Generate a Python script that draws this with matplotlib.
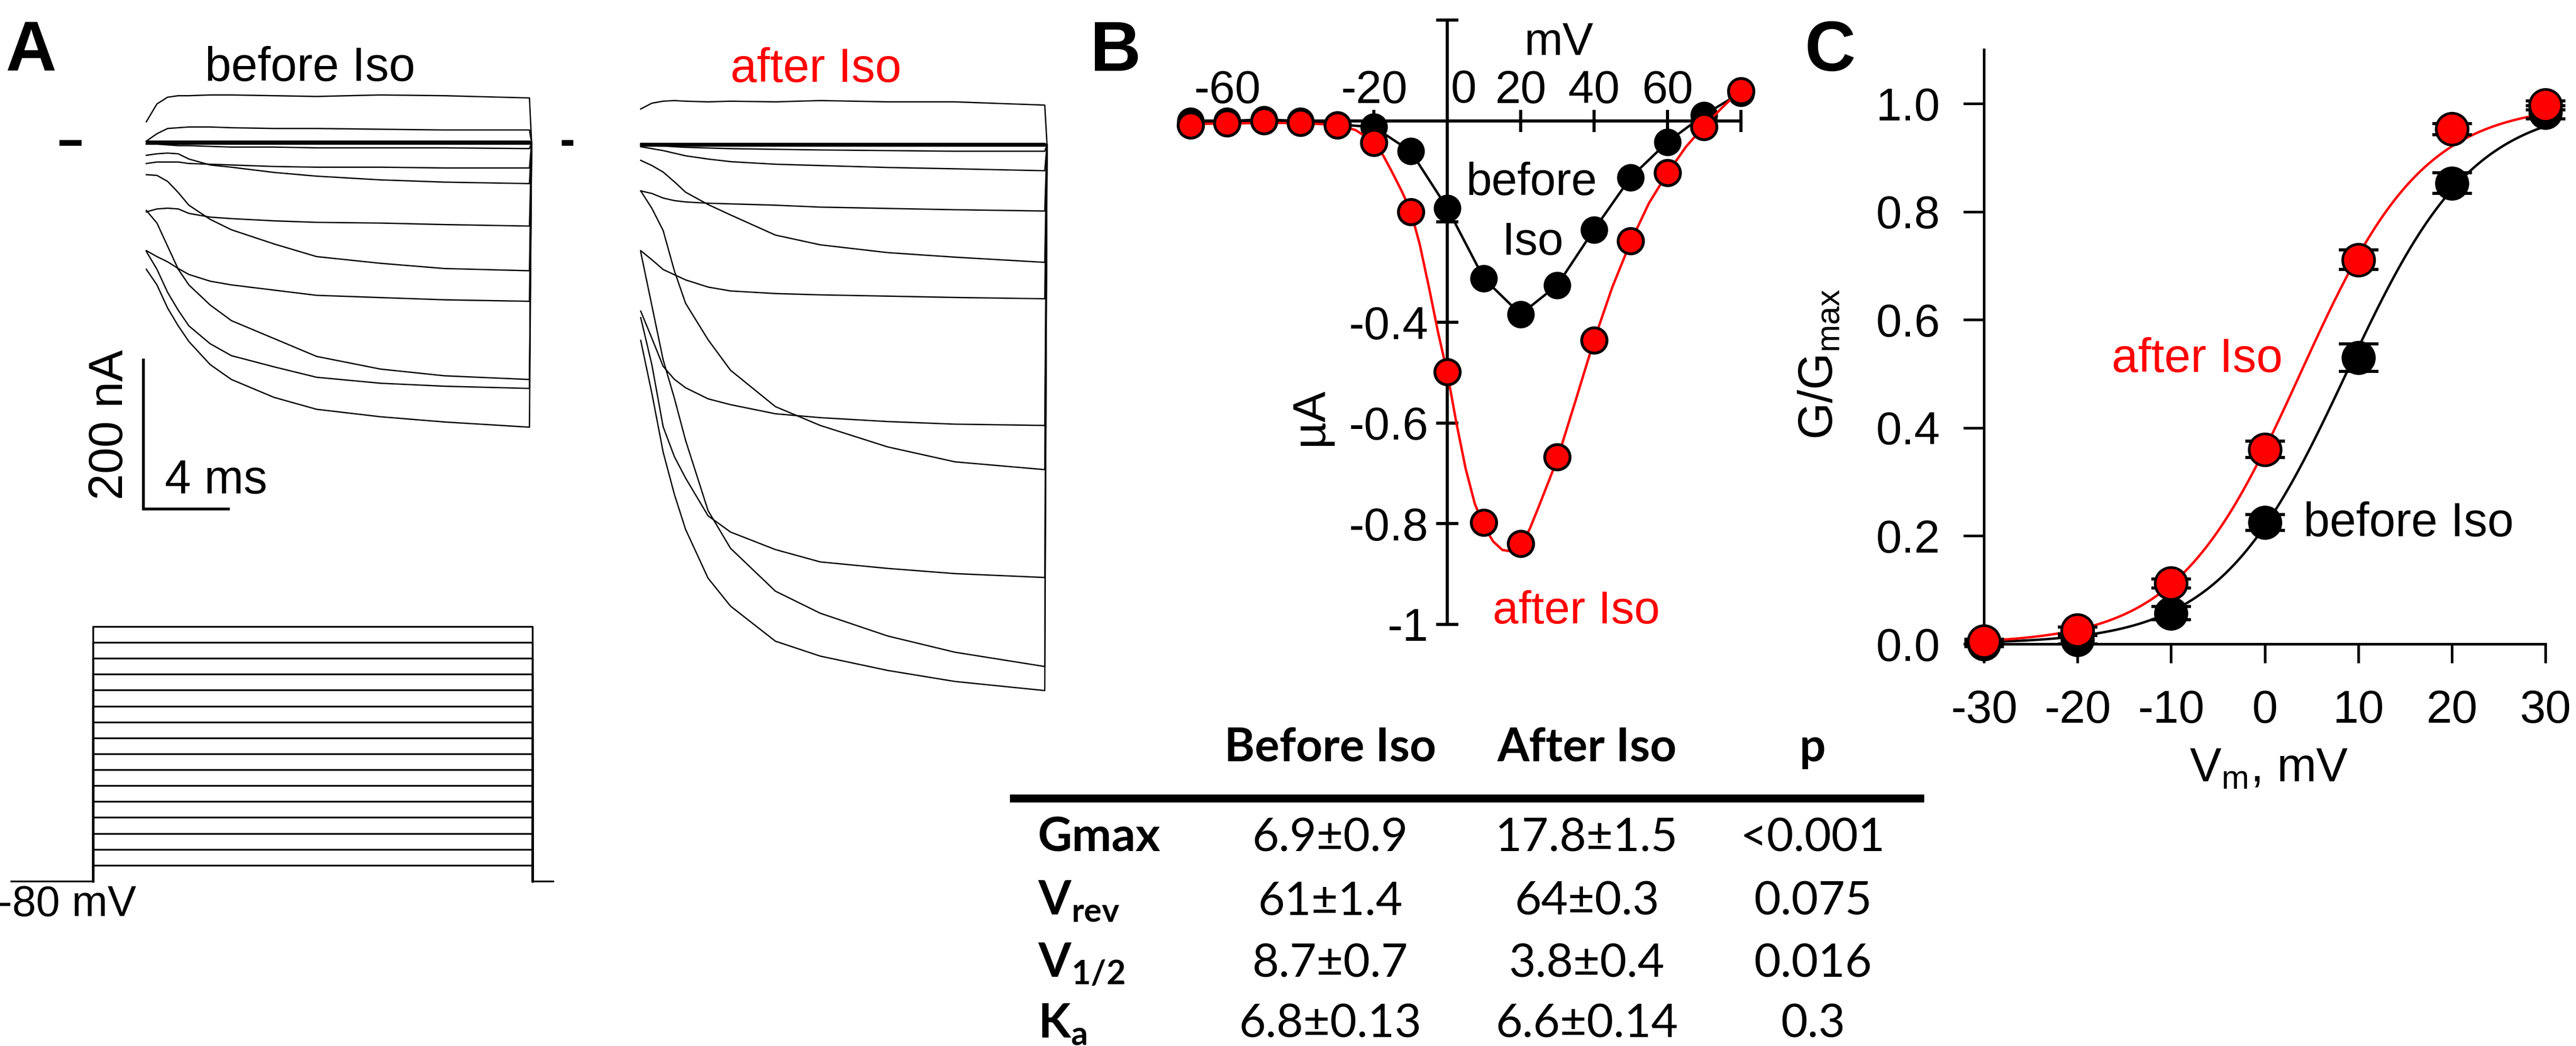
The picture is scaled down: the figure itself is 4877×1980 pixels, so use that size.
import numpy as np
import matplotlib.pyplot as plt
from matplotlib.lines import Line2D

OUT_PATH = "out.png"
W, H, DPI = 4877, 1980, 300

# ---------------- data ----------------
VOLTAGES = [-70, -60, -50, -40, -30, -20, -10, 0, 10, 20, 30, 40, 50, 60, 70, 80]

# A: currents (nA) at these times (ms) after the step
TRACE_T = [0, 0.5, 1, 1.5, 2, 3, 4, 6, 8, 11, 14, 18]

TRACES_BEFORE = {
    -70: [1, 1, 1, 1, 1, 1, 1, 1, 1, 1, 1, 1],
    -60: [-1, -1, -1, -1, -1, -1, -1, -1, -1, -1, -1, -1],
    -50: [2, 2, 2, 2, 2, 2, 2, 2, 2, 2, 2, 2],
    -40: [0, 0, 0, 0, 0, 0, 0, 0, 0, 0, 0, 0],
    -30: [-2, -2, -2, -2, -2, -2, -2, -2, -2, -2, -2, -2],
    -20: [-2, -2, -3, -4, -4, -5, -6, -6, -7, -7, -7, -8],
    -10: [-17, -15, -14, -15, -22, -30, -33, -40, -45, -50, -53, -55],
    0:   [-43, -44, -52, -67, -84, -103, -117, -136, -153, -162, -169, -172],
    10:  [-91, -108, -139, -170, -191, -218, -239, -263, -287, -304, -313, -318],
    20:  [-170, -191, -222, -246, -267, -298, -318, -342, -358, -368, -375, -382],
    30:  [-146, -170, -201, -225, -246, -270, -286, -301, -315, -323, -327, -330],
    40:  [-145, -153, -160, -169, -177, -186, -191, -198, -205, -208, -211, -213],
    50:  [-93, -89, -88, -89, -95, -100, -102, -105, -107, -108, -110, -112],
    60:  [-28, -26, -26, -26, -28, -29, -30, -32, -33, -33, -34, -34],
    70:  [2, 12, 19, 20, 21, 21, 20, 19, 19, 18, 17, 17],
    80:  [28, 52, 61, 63, 63, 64, 64, 63, 62, 64, 63, 60],
}

TRACES_AFTER = {
    -70: [1, 1, 1, 1, 1, 1, 1, 1, 1, 1, 1, 1],
    -60: [-1, -1, -1, -1, -1, -1, -1, -1, -1, -1, -1, -1],
    -50: [2, 2, 2, 2, 2, 2, 2, 2, 2, 2, 2, 2],
    -40: [-2, -2, -2, -2, -2, -2, -2, -2, -2, -2, -2, -2],
    -30: [0, 0, 0, 0, 0, 0, 0, 0, 0, 0, 0, 0],
    -20: [-3, -6, -9, -13, -17, -22, -26, -30, -32, -35, -37, -40],
    -10: [-24, -32, -42, -57, -73, -92, -108, -139, -154, -166, -173, -181],
    0:   [-71, -98, -132, -194, -244, -300, -347, -403, -432, -465, -488, -500],
    10:  [-165, -248, -331, -390, -455, -563, -621, -687, -721, -756, -781, -803],
    20:  [-301, -383, -473, -538, -592, -667, -710, -764, -787, -809, -826, -840],
    30:  [-266, -339, -434, -480, -513, -571, -596, -623, -642, -652, -660, -666],
    40:  [-256, -298, -341, -361, -374, -391, -400, -414, -420, -426, -430, -432],
    50:  [-163, -177, -192, -200, -208, -219, -225, -229, -231, -233, -235, -237],
    60:  [-71, -75, -82, -86, -88, -90, -91, -93, -96, -98, -100, -102],
    70:  [0, -1, -2, -3, -4, -5, -6, -7, -8, -9, -10, -10],
    80:  [55, 64, 67, 68, 67, 66, 67, 66, 68, 66, 66, 61],
}
TAIL_NA = 0          # current right after the step returns to -80 mV
HOLD_NA = 0          # holding current shown as short segments (before panel)

# voltage protocol
HOLD_MV = -80

# B: I-V relation (uA)
IV_BEFORE = [0.0, 0.0, 0.003, 0.0, -0.007, -0.012, -0.060, -0.173, -0.313, -0.384,
             -0.326, -0.216, -0.112, -0.042, 0.012, 0.056]
IV_AFTER = [-0.008, -0.004, 0.0, -0.003, -0.008, -0.043, -0.180, -0.498, -0.797, -0.839,
            -0.667, -0.435, -0.238, -0.103, -0.012, 0.060]
# fitted curve through the after-Iso points
FIT_V = [-70, -60, -50, -40, -30, -25, -20, -17.5, -15, -12.5, -10, -7.5, -5, -2.5, 0,
         2.5, 5, 7.5, 10, 12.5, 15, 17.5, 20, 22.5, 25, 30, 35, 40, 45, 50, 55, 60,
         65, 70, 75, 80]
FIT_I = [-0.006, -0.005, -0.004, -0.004, -0.008, -0.018, -0.042, -0.068, -0.102,
         -0.138, -0.178, -0.245, -0.33, -0.42, -0.50, -0.60, -0.69, -0.76, -0.805,
         -0.835, -0.852, -0.855, -0.845, -0.81, -0.765, -0.672, -0.555, -0.436,
         -0.33, -0.24, -0.163, -0.104, -0.052, -0.01, 0.027, 0.062]

# C: normalised conductance
GV_V = [-30, -20, -10, 0, 10, 20, 30]
GV_BEFORE = [0.0, 0.008, 0.057, 0.225, 0.53, 0.853, 0.984]
GV_BEFORE_ERR = [0.005, 0.008, 0.012, 0.015, 0.025, 0.019, 0.012]
GV_AFTER = [0.005, 0.025, 0.112, 0.36, 0.711, 0.953, 0.997]
GV_AFTER_ERR = [0.004, 0.006, 0.008, 0.015, 0.018, 0.010, 0.008]

# Boltzmann parameters (table)
VHALF_BEFORE, KA_BEFORE = 8.7, 6.8
VHALF_AFTER, KA_AFTER = 3.8, 6.6

# table
TABLE_HEADER = ["Before Iso", "After Iso", "p"]
TABLE_ROWS = ["Gmax", r"$\mathbf{V}_{\mathbf{rev}}$", r"$\mathbf{V}_{\mathbf{1/2}}$",
              r"$\mathbf{K}_{\mathbf{a}}$"]
TABLE_BEFORE = ["6.9±0.9", "61±1.4", "8.7±0.7", "6.8±0.13"]
TABLE_AFTER = ["17.8±1.5", "64±0.3", "3.8±0.4", "6.6±0.14"]
TABLE_P = ["<0.001", "0.075", "0.016", "0.3"]

RED = "#ff0000"

plt.rcParams.update({
    "font.family": ["Liberation Sans", "DejaVu Sans"],
    "font.size": 21,
    "axes.unicode_minus": False,
    "mathtext.fontset": "custom",
    "mathtext.rm": "Liberation Sans",
    "mathtext.it": "Liberation Sans:italic",
    "mathtext.bf": "Lato:bold",
})

fig = plt.figure(figsize=(W / DPI, H / DPI), dpi=DPI)


def box(x0, y0, x1, y1):
    return [x0 / W, 1 - y1 / H, (x1 - x0) / W, (y1 - y0) / H]


def ftext(px, py, s, **kw):
    return fig.text(px / W, 1 - py / H, s, **kw)


def trace_axes(bx, t0_px, ms_px, zero_px, na_px):
    ax = fig.add_axes(box(*bx))
    ax.set_xlim((bx[0] - t0_px) / ms_px, (bx[2] - t0_px) / ms_px)
    ax.set_ylim((zero_px - bx[3]) / na_px, (zero_px - bx[1]) / na_px)
    ax.axis("off")
    return ax


# ---------------- A: traces ----------------
ax_b = trace_axes((100, 150, 1100, 1000), 277, 40.3, 270, 1.41)
for v in VOLTAGES:
    ax_b.plot(TRACE_T + [18.1], TRACES_BEFORE[v] + [TAIL_NA], color="black", lw=0.6)
for seg in [(-4.1, -3.05), (19.5, 20.05)]:
    ax_b.plot(seg, [HOLD_NA, HOLD_NA], color="black", lw=2.6, solid_capstyle="butt")

# scale bar: 200 nA / 4 ms
sb_t, sb_i = -0.15, -491.5
ax_b.plot([sb_t, sb_t, sb_t + 4], [sb_i + 200, sb_i, sb_i], color="black", lw=1.3,
          clip_on=False, solid_joinstyle="miter")

ax_a = trace_axes((1150, 150, 2050, 1350), 1213, 42.5, 274, 1.23)
for v in VOLTAGES:
    ax_a.plot(TRACE_T + [18.1], TRACES_AFTER[v] + [TAIL_NA], color="black", lw=0.6)

ftext(587, 153, "before Iso", ha="center", va="baseline", fontsize=21.5)
ftext(1545, 155, "after Iso", ha="center", va="baseline", fontsize=21.5, color=RED)
ftext(209, 804, "200 nA", ha="center", va="center", rotation=90, fontsize=21.5)
ftext(312, 934, "4 ms", ha="left", va="baseline", fontsize=21.5)

# voltage protocol
ax_p = fig.add_axes(box(0, 1150, 1100, 1700))
ax_p.set_xlim((0 - 176) / 40.3, (1100 - 176) / 40.3)
ax_p.set_ylim(HOLD_MV - 32 / 3.013, HOLD_MV + 518 / 3.013)
ax_p.axis("off")
step_end = (1008 - 176) / 40.3
for v in VOLTAGES:
    ax_p.plot([0, 0, step_end, step_end], [HOLD_MV, v, v, HOLD_MV], color="black", lw=0.8)
ax_p.plot([(21 - 176) / 40.3, 0], [HOLD_MV, HOLD_MV], color="black", lw=0.8)
ax_p.plot([step_end, (1047 - 176) / 40.3], [HOLD_MV, HOLD_MV], color="black", lw=0.8)
ftext(-4, 1734, "-80 mV", ha="left", va="baseline", fontsize=19.5)

# ---------------- B: I-V ----------------
axB = fig.add_axes(box(2200, 20, 3330, 1200))
axB.set_xlim((2200 - 2740) / 6.945, (3330 - 2740) / 6.945)
axB.set_ylim(-(1200 - 229) / 953, (229 - 20) / 953)
for s in ["bottom", "right"]:
    axB.spines[s].set_visible(False)
axB.spines["left"].set_position(("data", 0))
axB.spines["top"].set_position(("data", 0))
axB.spines["left"].set_bounds(-1, 0.2)
axB.spines["top"].set_bounds(-73, 80)
for s in ["left", "top"]:
    axB.spines[s].set_linewidth(1.4)
axB.patch.set_visible(False)
axB.xaxis.tick_top()
axB.set_xticks([-60, -40, -20, 20, 40, 60, 80])
axB.set_xticklabels(["-60", "", "-20", "20", "40", "60", ""])
axB.set_xticks([4.5], minor=True)
axB.set_xticklabels(["0"], minor=True)
axB.set_yticks([-1, -0.8, -0.6, -0.4, -0.2, 0.2])
axB.set_yticklabels(["-1", "-0.8", "-0.6", "-0.4", "", ""])
axB.tick_params(axis="both", which="major", direction="inout", length=10, width=1.4,
                labelsize=21)
axB.tick_params(axis="x", which="major", pad=-1.1)
axB.tick_params(axis="x", which="minor", length=0, pad=4.1, labelsize=21)
axB.tick_params(axis="y", pad=3.7)

axB.plot(VOLTAGES, IV_BEFORE, "-o", color="black", lw=1.1, ms=11.5, mfc="black",
         mec="black", mew=1.0, zorder=3, clip_on=False)
axB.plot(FIT_V, FIT_I, color=RED, lw=1.1, zorder=4, clip_on=False)
axB.plot(VOLTAGES, IV_AFTER, "o", ms=11.5, mfc=RED, mec="black", mew=1.3, zorder=5,
         clip_on=False)

ftext(2951, 104, "mV", ha="center", va="baseline", fontsize=21)
ftext(2481, 789, "µA", ha="center", va="center", rotation=90, fontsize=21)
ftext(2900, 369, "before", ha="center", va="baseline", fontsize=21)
ftext(2902, 482, "Iso", ha="center", va="baseline", fontsize=21)
ftext(2984, 1180, "after Iso", ha="center", va="baseline", fontsize=21, color=RED)

# ---------------- table ----------------
col_x = [2518, 3004, 3432]
for x, s in zip(col_x, TABLE_HEADER):
    ftext(x, 1441, s, ha="center", va="baseline", fontsize=21, family="Lato",
          weight="bold")
fig.add_artist(Line2D([1919 / W, 3635 / W], [1 - 1511 / H, 1 - 1511 / H], lw=3.6,
                      color="black"))
row_y = [1612, 1731, 1849, 1964]
for y, lab, b, a, p in zip(row_y, TABLE_ROWS, TABLE_BEFORE, TABLE_AFTER, TABLE_P):
    ftext(1965, y, lab, ha="left", va="baseline", fontsize=21.5, family="Lato",
          weight="bold")
    for x, s in zip(col_x, [b, a, p]):
        ftext(x, y, s, ha="center", va="baseline", fontsize=21, family="Lato")

# ---------------- C: G-V ----------------
axC = fig.add_axes(box(3756, 94, 4819, 1219))
axC.set_xlim(-30, 30)
axC.set_ylim(0, 1.1)
axC.patch.set_visible(False)
for s in ["top", "right"]:
    axC.spines[s].set_visible(False)
for s in ["left", "bottom"]:
    axC.spines[s].set_linewidth(1.2)
axC.set_xticks(GV_V)
axC.set_xticklabels([str(v) for v in GV_V])
axC.set_yticks([0, 0.2, 0.4, 0.6, 0.8, 1.0])
axC.set_yticklabels(["0.0", "0.2", "0.4", "0.6", "0.8", "1.0"])
axC.tick_params(axis="y", direction="out", length=9.3, width=1.2, pad=10.5, labelsize=21)
axC.tick_params(axis="x", direction="out", length=8.6, width=1.2, pad=12, labelsize=21)

vv = np.linspace(-30, 30, 400)
axC.plot(vv, 1 / (1 + np.exp((VHALF_BEFORE - vv) / KA_BEFORE)), color="black", lw=1.1,
         zorder=2)
axC.plot(vv, 1 / (1 + np.exp((VHALF_AFTER - vv) / KA_AFTER)), color=RED, lw=1.1,
         zorder=3)
for y, e, z in [(GV_BEFORE, GV_BEFORE_ERR, 4), (GV_AFTER, GV_AFTER_ERR, 6)]:
    eb = axC.errorbar(GV_V, y, yerr=e, fmt="none", ecolor="black", elinewidth=1.2,
                      capsize=9, capthick=1.4, zorder=z)
    for art in list(eb.lines[1]) + list(eb.lines[2]):
        art.set_clip_on(False)
axC.plot(GV_V, GV_BEFORE, "o", ms=14.5, mfc="black", mec="black", mew=1.0, zorder=5,
         clip_on=False)
axC.plot(GV_V, GV_AFTER, "o", ms=14.5, mfc=RED, mec="black", mew=1.2, zorder=7,
         clip_on=False)

ftext(4160, 704, "after Iso", ha="center", va="baseline", fontsize=21.5, color=RED)
ftext(4361, 1015, "before Iso", ha="left", va="baseline", fontsize=21.5)
ftext(4296, 1480, r"V$_\mathrm{m}$, mV", ha="center", va="baseline", fontsize=21.5)
ftext(3446, 689, r"G/G$_\mathrm{max}$", ha="center", va="center", rotation=90,
      fontsize=21.5)

# panel letters
for x, s in [(11, "A"), (2063, "B"), (3416, "C")]:
    ftext(x, 134, s, ha="left", va="baseline", fontsize=32, weight="bold")

fig.savefig(OUT_PATH, dpi=DPI)
print(f"Saved {OUT_PATH}")
